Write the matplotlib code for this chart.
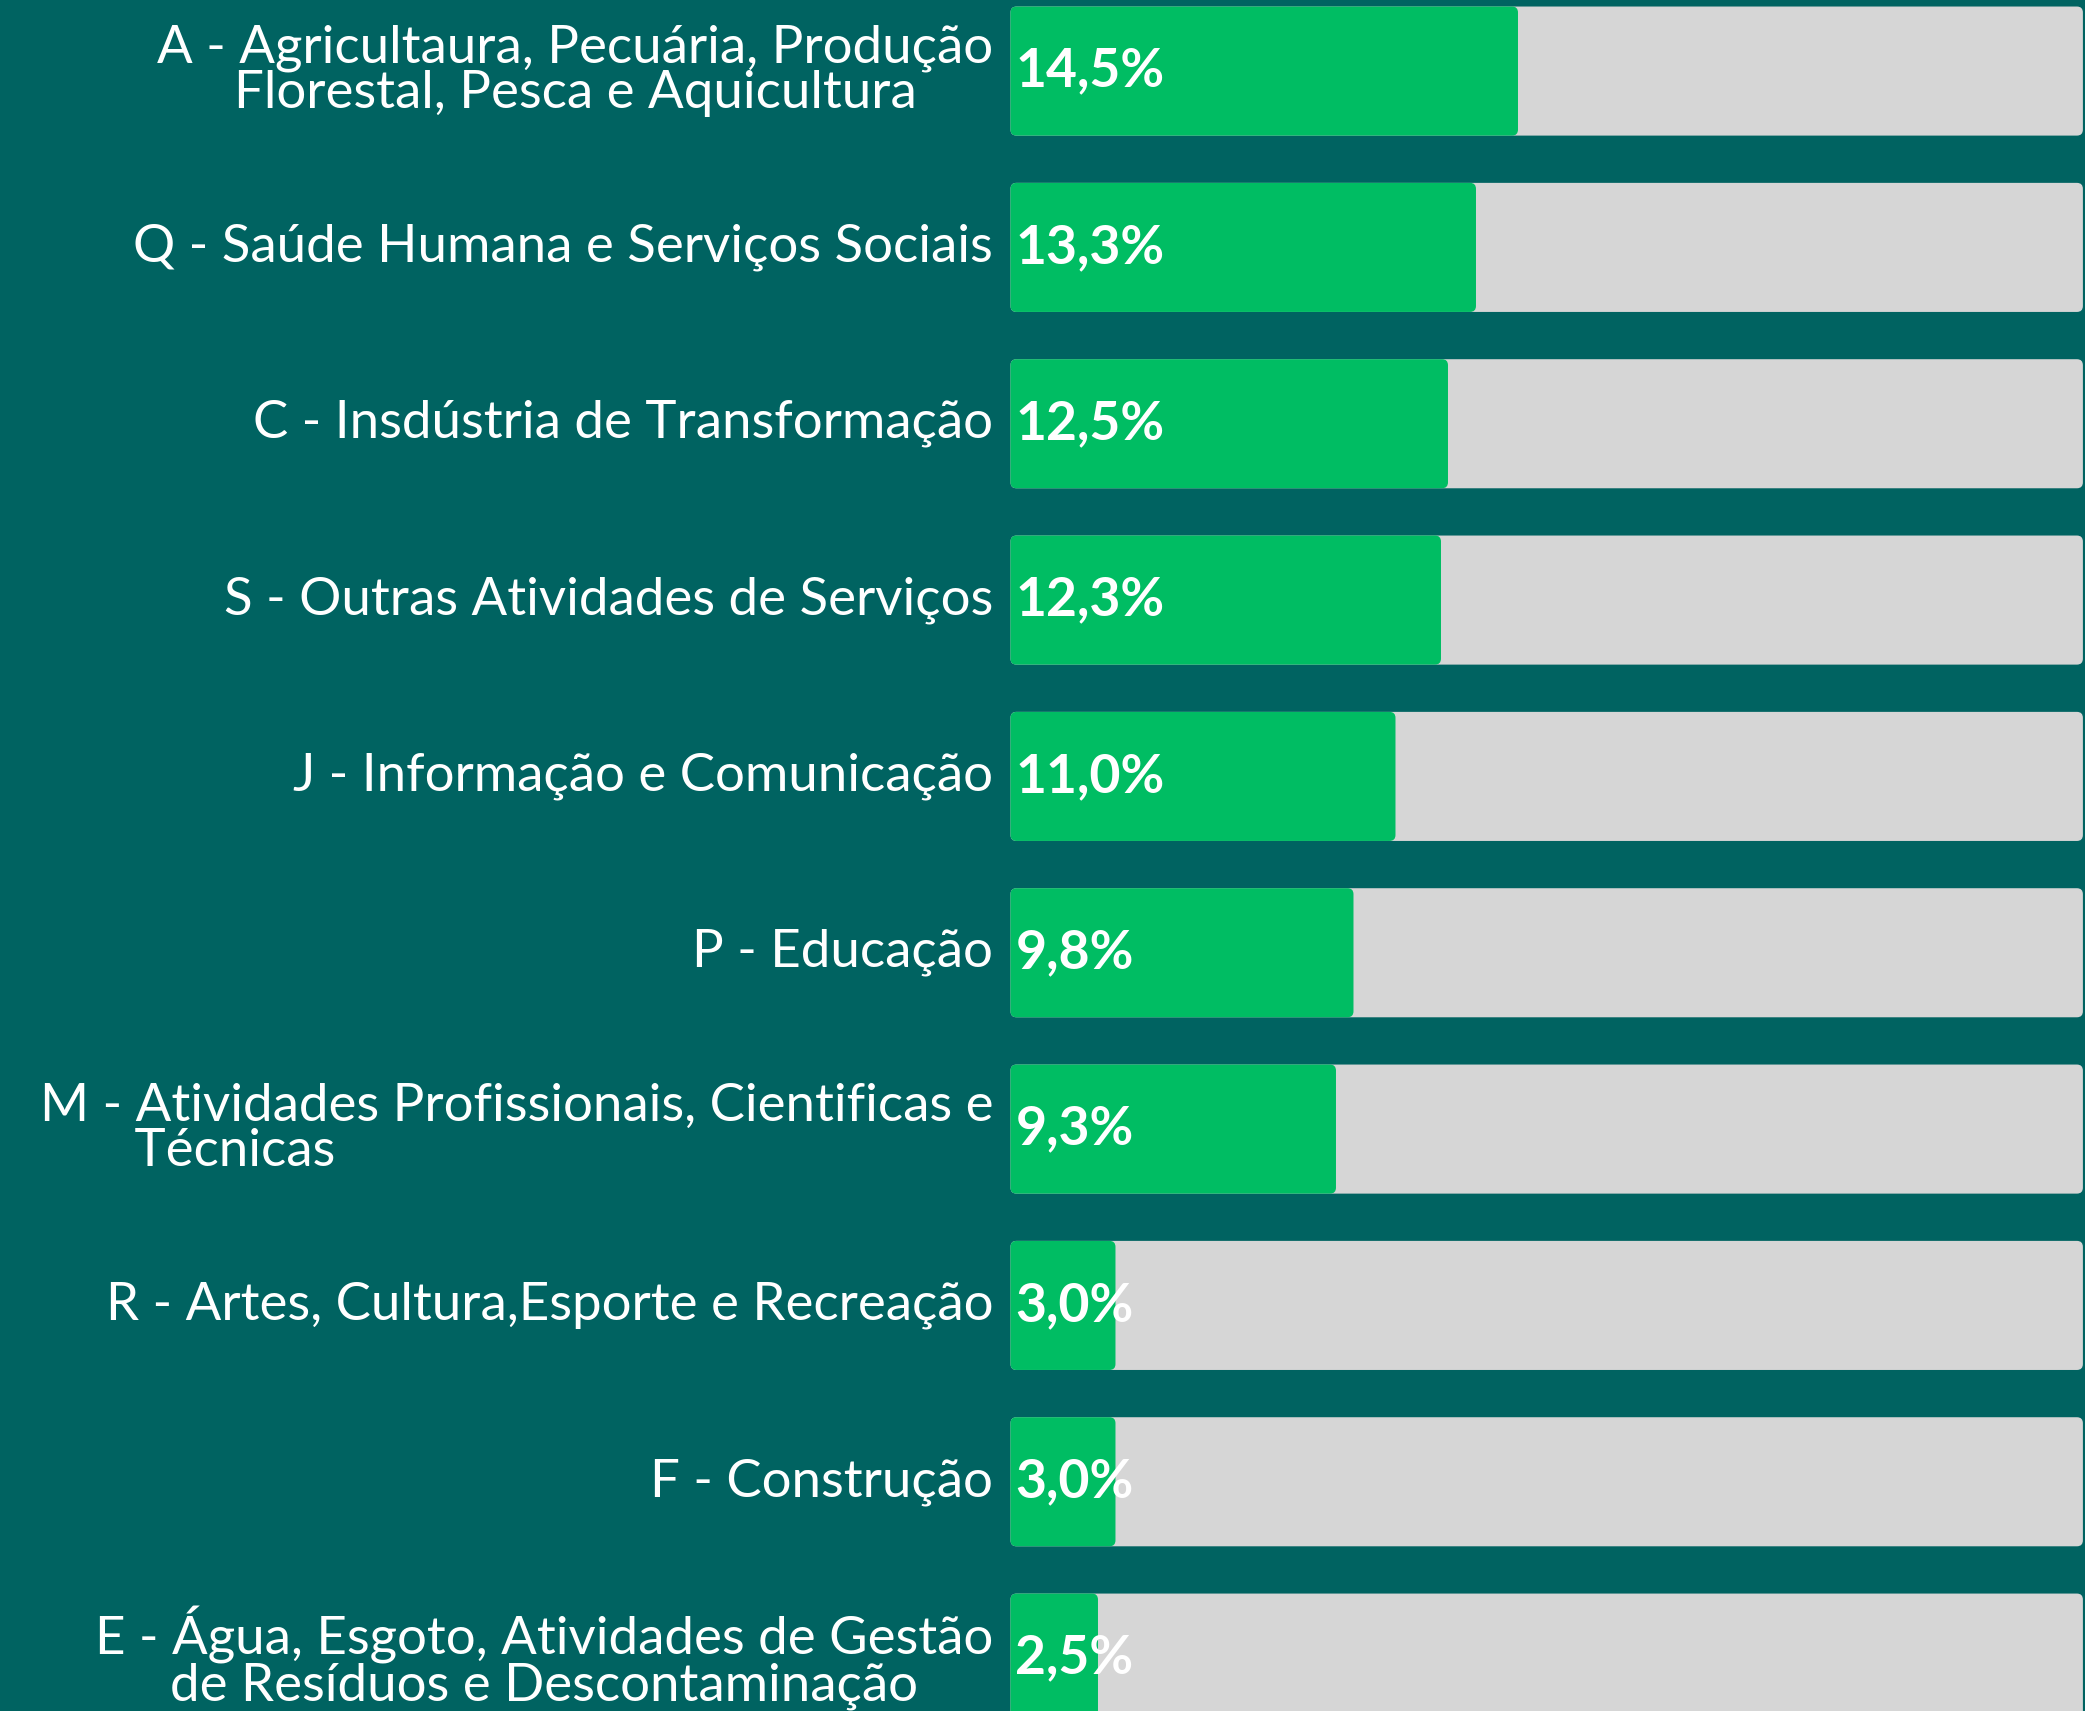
import matplotlib.pyplot as plt
from matplotlib.patches import FancyBboxPatch

# share of each sector (%)
sectors = [
    "A - Agricultaura, Pecuária, Produção\nFlorestal, Pesca e Aquicultura",
    "Q - Saúde Humana e Serviços Sociais",
    "C - Insdústria de Transformação",
    "S - Outras Atividades de Serviços",
    "J - Informação e Comunicação",
    "P - Educação",
    "M - Atividades Profissionais, Cientificas e\n       Técnicas",
    "R - Artes, Cultura,Esporte e Recreação",
    "F - Construção",
    "E - Água, Esgoto, Atividades de Gestão\nde Resíduos e Descontaminação",
]
shares = [14.5, 13.3, 12.5, 12.3, 11.0, 9.8, 9.3, 3.0, 3.0, 2.5]
track_max = 30.64

BG = "#006361"
GREEN = "#00BD63"
GREY = "#D6D6D6"

W, H, DPI = 2085, 1711, 100
fig = plt.figure(figsize=(W / DPI, H / DPI), dpi=DPI, facecolor=BG)
ax = fig.add_axes([0, 0, 1, 1])
ax.set_facecolor(BG)

xmin, xmax = -28.87, 30.70
ymin, ymax = 9.30, -0.403
ax.set_xlim(xmin, xmax)
ax.set_ylim(ymin, ymax)
ax.axis("off")

# keep the corner rounding circular in pixels
xu = (xmax - xmin) / W
yu = (ymin - ymax) / H
aspect = yu / xu
radius = 6 * xu
bar_h = 0.732

bars_bg = ax.barh(range(len(shares)), [track_max] * len(shares), height=bar_h)
bars_fg = ax.barh(range(len(shares)), shares, height=bar_h)
for group, color in ((bars_bg, GREY), (bars_fg, GREEN)):
    for b in group:
        b.set_visible(False)
        ax.add_patch(FancyBboxPatch(
            (b.get_x(), b.get_y()), b.get_width(), b.get_height(),
            boxstyle=f"round,pad=0,rounding_size={radius}",
            mutation_aspect=aspect, facecolor=color, edgecolor="none"))

for i, (name, v) in enumerate(zip(sectors, shares)):
    ax.annotate(name, xy=(0, i), xytext=(-12.5, 0), textcoords="offset points",
                ha="right", va="center", multialignment="left" if name.startswith("M") else "center",
                color="white", fontsize=38, family="Lato", linespacing=0.95)
    ax.annotate(f"{v:.1f}%".replace(".", ","), xy=(0, i), xytext=(3.5, 0),
                textcoords="offset points", ha="left", va="center",
                color="white", fontsize=38.5, fontweight="bold", family="Lato")

fig.savefig("out.png", dpi=DPI, facecolor=BG)
